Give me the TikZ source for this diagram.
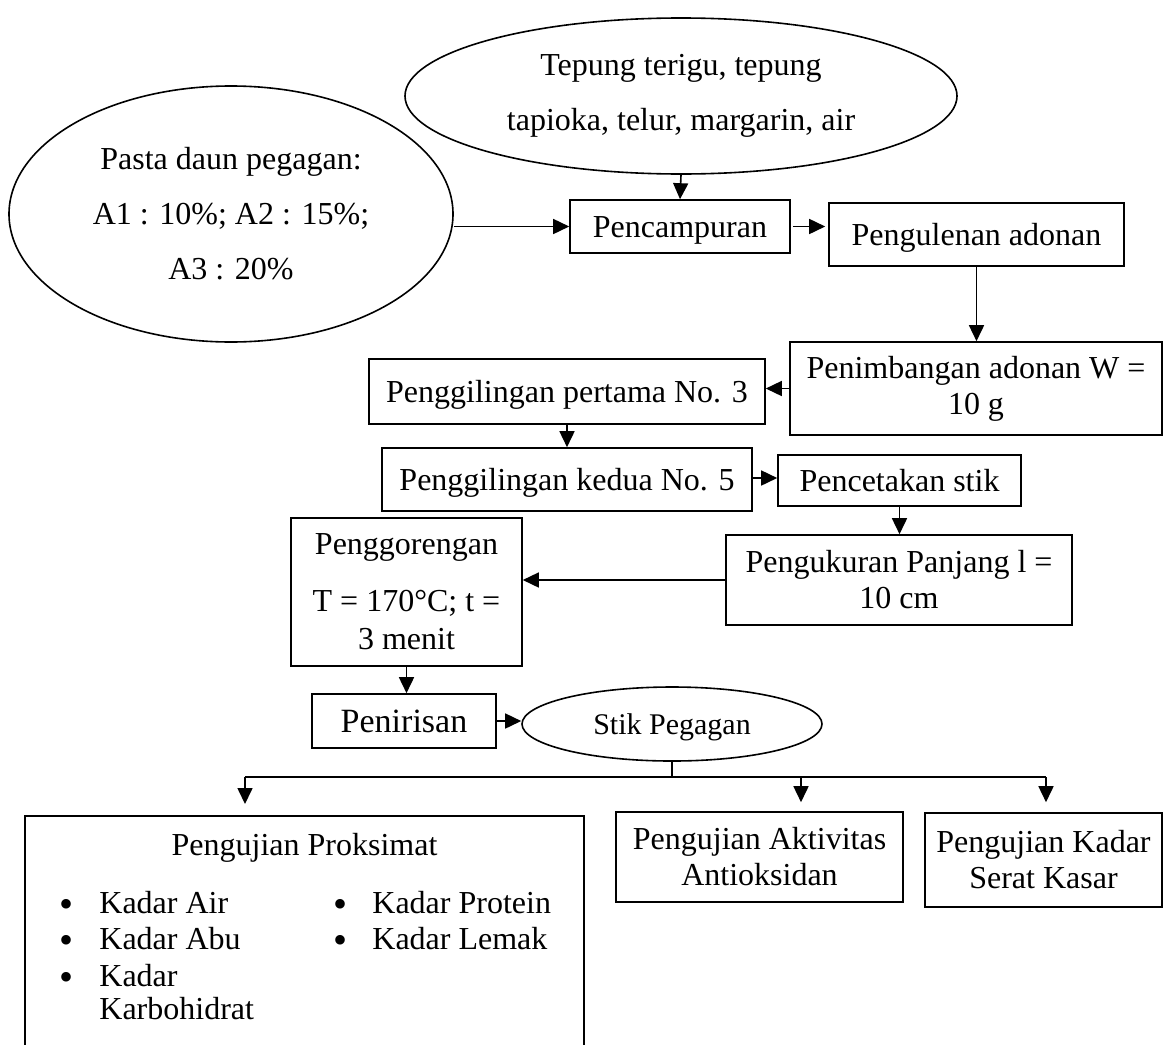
\documentclass[tikz,border=0pt]{standalone}
\usepackage{fontspec}
\setmainfont{Liberation Serif}
\usetikzlibrary{arrows.meta,shapes.geometric}
\begin{document}
\begin{tikzpicture}[x=0.5pt,y=-0.5pt,
  every node/.style={font=\fontsize{16}{18}\selectfont},
  box/.style={draw,line width=0.8pt,inner sep=0pt,align=center},
  one/.style={text height=10.5pt,text depth=0pt},
  oval/.style={draw,ellipse,line width=0.8pt,inner sep=0pt,align=center},
  arr/.style={line width=0.8pt,-{Triangle[length=8pt,width=7.5pt]}},
  ln/.style={line width=0.8pt},
  txt/.style={inner sep=0pt,anchor=base west},
  bul/.style={inner sep=0pt,anchor=north,align=center,font=\fontsize{20}{18.25}\selectfont}]
\useasboundingbox (0,0) rectangle (1165,1044);
\clip (0,0) rectangle (1165,1044);

% inputs
\node[oval,minimum width=276pt,minimum height=78pt] (tep) at (681,96)
  {Tepung terigu, tepung\\[9.5pt]tapioka, telur, margarin, air};
\node[oval,minimum width=222pt,minimum height=128pt] (pas) at (231,214)
  {Pasta daun pegagan:\\[9.5pt]A1 : 10\%; A2 : 15\%;\\[9.5pt]A3 : 20\%};

% process boxes
\node[box,one,minimum width=110pt,minimum height=26.5pt] (pc) at (680,226.5) {Pencampuran};
\node[box,one,minimum width=147.5pt,minimum height=31.5pt] (pu) at (976.5,234.5) {Pengulenan adonan};
\node[box,minimum width=186pt,minimum height=46.5pt] (pn) at (976,388.5) {Penimbangan adonan W =\\10 g};
\node[box,one,minimum width=198pt,minimum height=32.5pt] (pt) at (567,391.5) {Penggilingan pertama No. 3};
\node[box,one,minimum width=185pt,minimum height=31.5pt] (kd) at (567,479.5) {Penggilingan kedua No. 5};
\node[box,one,minimum width=121.5pt,minimum height=25.5pt] (pcs) at (899.5,480.5) {Pencetakan stik};
\node[box,minimum width=173pt,minimum height=45pt] (pgk) at (899,580) {Pengukuran Panjang l =\\10 cm};
\node[box,minimum width=115.5pt,minimum height=74pt] (pgr) at (406.5,592) {Penggorengan\\[10.5pt]T = 170°C; t =\\[1pt]3 menit};
\node[box,one,text height=11pt,minimum width=92pt,minimum height=27pt,font=\fontsize{17}{19}\selectfont] (pr) at (404,721) {Penirisan};
\node[oval,one,text height=10pt,minimum width=150pt,minimum height=37pt,font=\fontsize{15}{17}\selectfont] (stik) at (672,724) {Stik Pegagan};

% test boxes
\node[box,minimum width=279.5pt,minimum height=140pt,anchor=north] (prk) at (304.5,815) {};
\node[inner sep=0pt,one] (prkt) at (304.5,845) {Pengujian Proksimat};
\node[bul] (bc1) at (67,899) {\textbullet\\\textbullet\\\textbullet};
\node[txt] (k1) at (99,913) {Kadar Air};
\node[txt] (k2) at (99,949) {Kadar Abu};
\node[txt] (k3) at (99,986) {Kadar};
\node[txt] (k3b) at (99,1019) {Karbohidrat};
\node[bul] (bc2) at (340,899) {\textbullet\\\textbullet};
\node[txt] (k4) at (372,913) {Kadar Protein};
\node[txt] (k5) at (372,949) {Kadar Lemak};

\node[box,minimum width=143.5pt,minimum height=45pt] (akt) at (759.5,857) {Pengujian Aktivitas\\Antioksidan};
\node[box,minimum width=118.5pt,minimum height=47pt] (kad) at (1043.5,860) {Pengujian Kadar\\Serat Kasar};

% connectors
\draw[arr] (tep.south) -- (pc.north);
\draw[arr] (pas.east |- pc.west) -- (pc.west);
\draw[arr] ([xshift=1pt]pc.east) -- ([xshift=-1.5pt]pc.east -| pu.west);
\draw[arr] (pu.south) -- (pu.south |- pn.north);
\draw[arr] (pn.west) -- (pn.west -| pt.east);
\draw[arr] (pt.south) -- (pt.south |- kd.north);
\draw[arr] (kd.east |- 0,478) -- (pcs.west |- 0,478);
\draw[arr] (pcs.south) -- (pcs.south |- pgk.north);
\draw[arr] (pgk.west) -- (pgk.west -| pgr.east);
\draw[arr] (pgr.south) -- (pgr.south |- pr.north);
\draw[arr] (pr.east) -- (pr.east -| stik.west);

\coordinate (br) at (672,777);
\coordinate (bl) at (245,777);
\coordinate (bm) at (801,777);
\coordinate (bre) at (1046,777);
\draw[ln] (stik.south) -- (br);
\draw[ln] (bl) -- (bre);
\draw[arr,shorten >=5.5pt] (bl) -- (bl |- prk.north);
\draw[arr,shorten >=4.5pt] (bm) -- (bm |- akt.north);
\draw[arr,shorten >=5pt] (bre) -- (bre |- kad.north);
\end{tikzpicture}
\end{document}
